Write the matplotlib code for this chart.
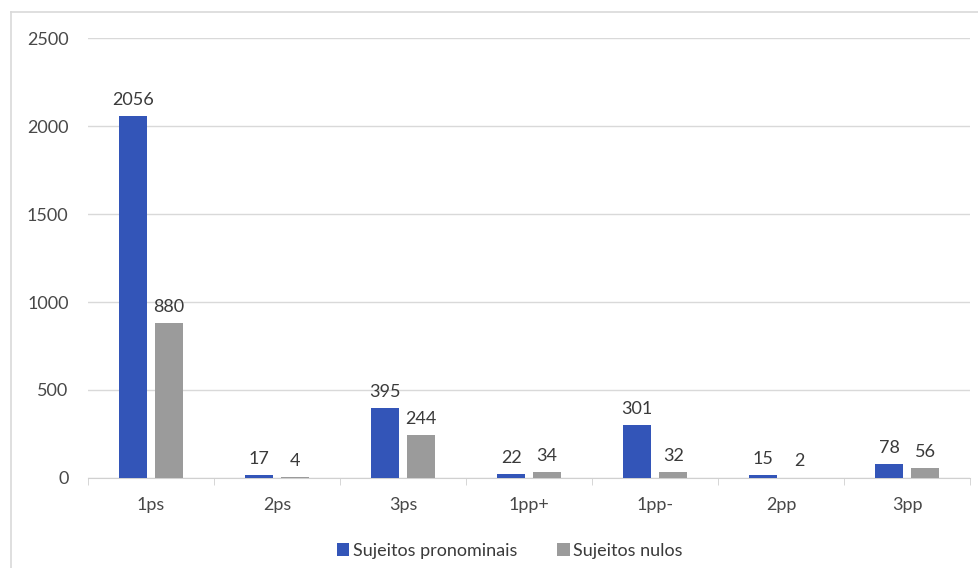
import numpy as np
import matplotlib
matplotlib.use('Agg')
import matplotlib.pyplot as plt
from matplotlib.lines import Line2D

categories = ['1ps', '2ps', '3ps', '1pp+', '1pp-', '2pp', '3pp']
pronominais = [2056, 17, 395, 22, 301, 15, 78]
nulos = [880, 4, 244, 34, 32, 2, 56]

plt.rcParams['font.family'] = ['Lato', 'DejaVu Sans']

fig = plt.figure(figsize=(9.79, 5.68), dpi=100)
ax = fig.add_axes([0.0899, 0.1585, 0.9011, 0.7745])

# outer chart frame (only top/left visible in the reference)
fig.add_artist(Line2D([0.011, 0.011], [0, 0.979], color='#d9d9d9', lw=1.2))
fig.add_artist(Line2D([0.011, 1.0], [0.979, 0.979], color='#d9d9d9', lw=1.2))

x = np.arange(len(categories))
w = 0.225
off = 0.143
blue = '#3355b8'
gray = '#9b9b9b'
txt = '#3a3a3a'
b1 = ax.bar(x - off, pronominais, w, color=blue, label='Sujeitos pronominais', zorder=3)
b2 = ax.bar(x + off, nulos, w, color=gray, label='Sujeitos nulos', zorder=3)

for rect, v in zip(b1, pronominais):
    ax.annotate(str(v), (rect.get_x() + rect.get_width() / 2, v), xytext=(0, 6),
                textcoords='offset points', ha='center', va='bottom', fontsize=13, color=txt)
for rect, v in zip(b2, nulos):
    ax.annotate(str(v), (rect.get_x() + rect.get_width() / 2, v), xytext=(0, 6),
                textcoords='offset points', ha='center', va='bottom', fontsize=13, color=txt)

ax.set_xlim(-0.5, len(categories) - 0.5)
ax.set_ylim(0, 2500)
ax.set_yticks(range(0, 2501, 500))
ax.set_xticks(x)
ax.set_xticklabels(categories)
ax.set_xticks(np.arange(-0.5, len(categories)), minor=True)
ax.tick_params(axis='x', which='major', length=0, pad=14, labelsize=13, labelcolor='#484848')
ax.tick_params(axis='x', which='minor', length=5, color='#d0d0d0')
ax.tick_params(axis='y', length=0, pad=14, labelsize=13, labelcolor='#484848')
ax.grid(axis='y', color='#d9d9d9', lw=1, zorder=0)
for s in ['top', 'right', 'left']:
    ax.spines[s].set_visible(False)
ax.spines['bottom'].set_color('#d0d0d0')

ax.legend(loc='upper center', bbox_to_anchor=(0.478, -0.148), ncol=2, frameon=False,
          fontsize=13, handlelength=0.7, handleheight=0.7, handletextpad=0.2,
          columnspacing=2.2, labelcolor=txt, borderaxespad=0, borderpad=0)

fig.savefig('out.png', dpi=100)
